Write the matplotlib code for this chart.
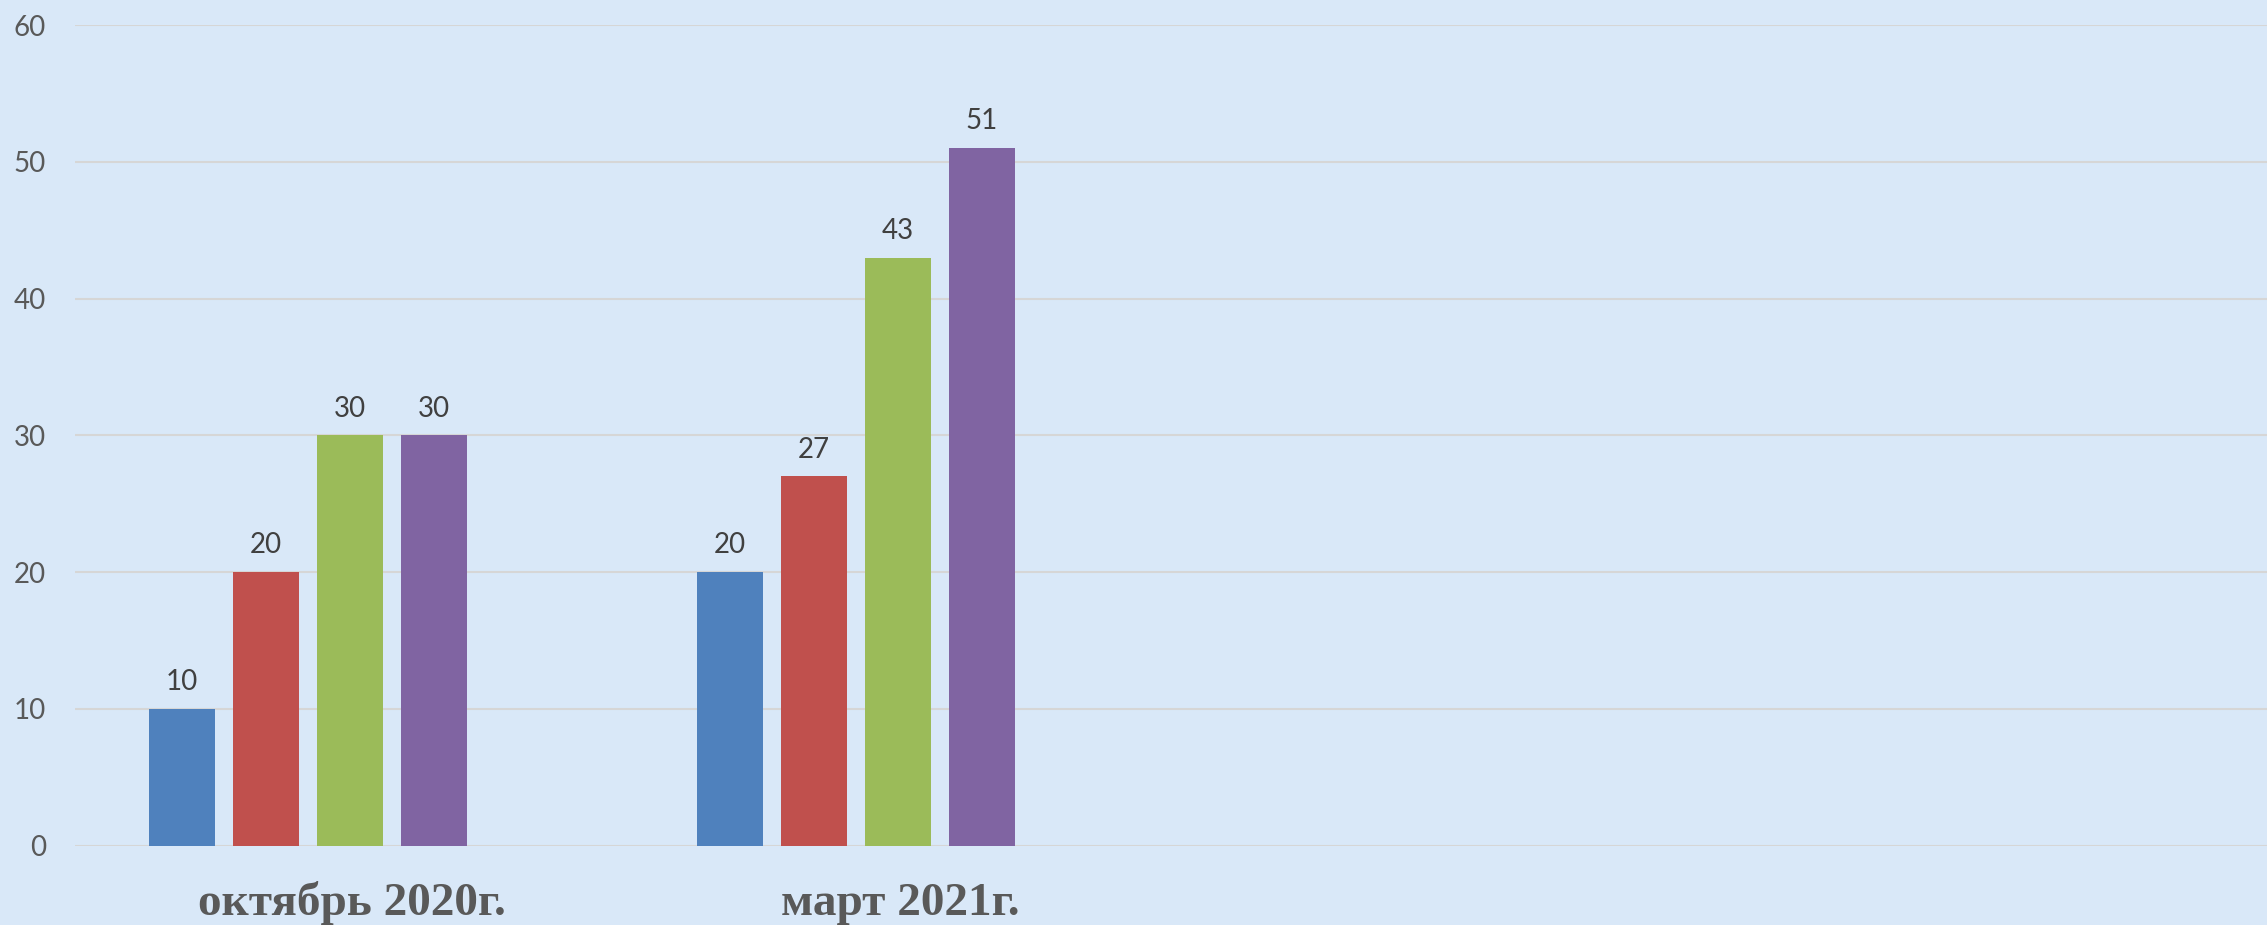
import numpy as np
import matplotlib.pyplot as plt
import matplotlib.transforms as mtransforms

# data
categories = ["октябрь 2020г.", "март 2021г."]
series1 = [10, 20]
series2 = [20, 27]
series3 = [30, 43]
series4 = [30, 51]
colors = ["#4f81bd", "#c0504d", "#9bbb59", "#8064a2"]
yticks = [0, 10, 20, 30, 40, 50, 60]

bg = "#d9e8f8"
fig = plt.figure(figsize=(22.67, 9.25), dpi=100, facecolor=bg)
ax = fig.add_axes([75 / 2267, 1 - 845.6 / 925, 1 - 75 / 2267, (845.6 - 25) / 925])
ax.set_facecolor(bg)

x = np.arange(len(categories))
width = 0.12
step = 0.1533
all_series = [series1, series2, series3, series4]
for i, s in enumerate(all_series):
    offs = (i - 1.5) * step
    bars = ax.bar(x + offs, s, width, color=colors[i], zorder=3)
    for b, v in zip(bars, s):
        ax.annotate(str(v), (b.get_x() + b.get_width() / 2, v),
                    xytext=(0, 13.5), textcoords="offset points",
                    ha="center", va="baseline", fontsize=20,
                    family="Lato", color="#404040")

ax.set_xlim(-0.4252, 3.575)
ax.set_ylim(0, 60)
ax.set_yticks(yticks)
ax.yaxis.grid(True, color="#d6d6d6", linewidth=1.5, zorder=0)
ax.set_axisbelow(True)
ax.tick_params(axis="y", length=0, pad=21, labelsize=20, labelcolor="#595959")
for lab in ax.get_yticklabels():
    lab.set_family("Lato")
ax.set_xticks([])
for sp in ax.spines.values():
    sp.set_visible(False)

# category labels, sitting a bit right of the cluster centres
trans = mtransforms.blended_transform_factory(ax.transData, ax.transAxes)
trans = trans + mtransforms.ScaledTranslation(44 / 100, 0, fig.dpi_scale_trans)
for xi, c in zip(x, categories):
    ax.text(xi, -0.084, c, transform=trans, ha="center", va="baseline",
            fontsize=34, fontweight="bold", family="Liberation Serif",
            color="#595959")

fig.savefig("out.png", dpi=100, facecolor=bg)
